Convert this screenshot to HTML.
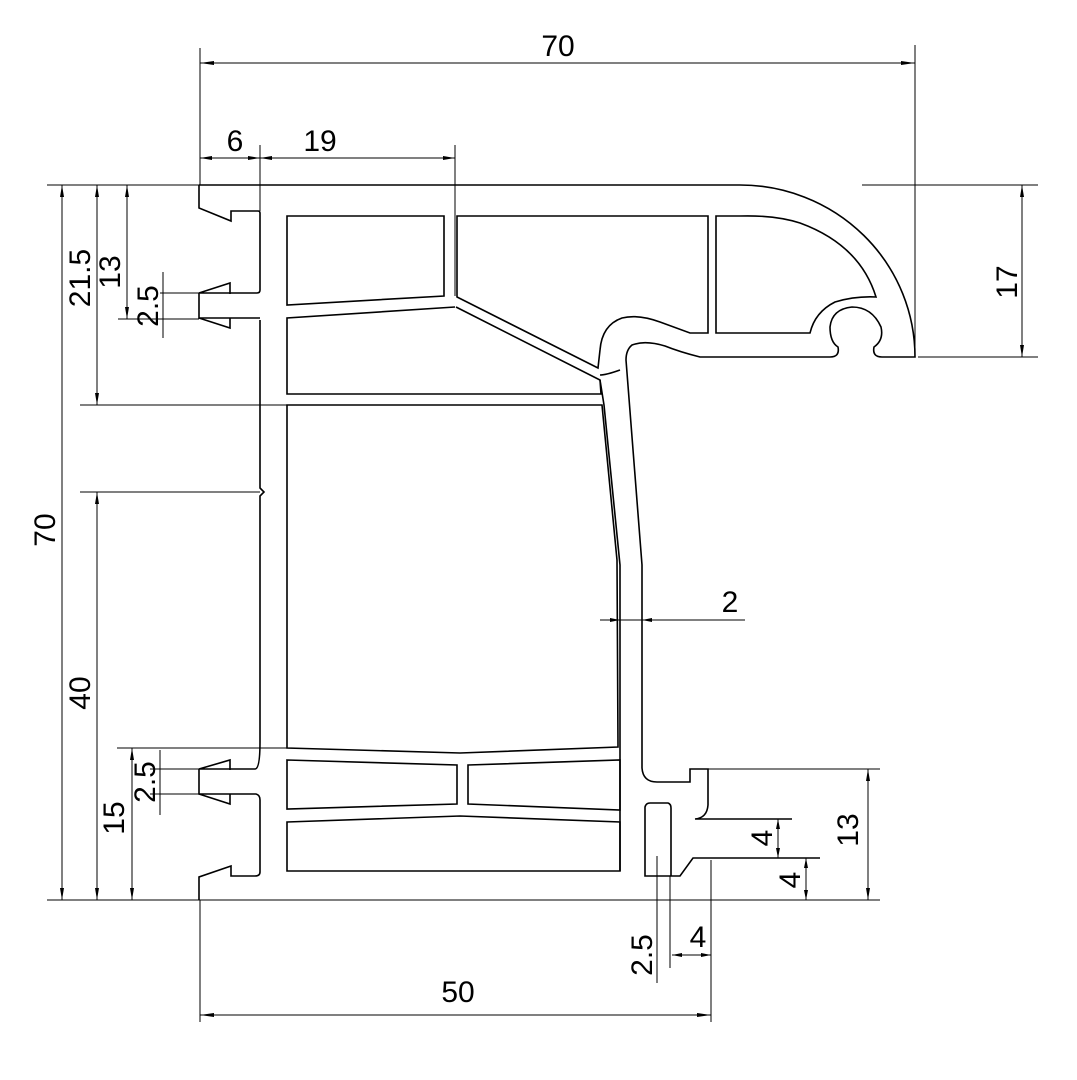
<!DOCTYPE html>
<html><head><meta charset="utf-8"><style>
html,body{margin:0;padding:0;background:#fff}
svg{display:block}
text{font-family:"Liberation Sans",sans-serif;font-size:30px;fill:#000}
</style></head><body>
<svg width="1077" height="1080" viewBox="0 0 1077 1080" xmlns="http://www.w3.org/2000/svg">
<g fill="none" stroke="#000" stroke-width="1.6">
<!-- outer profile -->
<path d="M199,185 L740,185 A175,172 0 0 1 915,357 L882,357 Q872,357 874,347 Q884,340 881,327 Q872,307 852,307 Q832,309 830,327 Q830,342 838,347 Q840,357 830,357 L700,357 Q680,352 665,346 Q645,340 632,345 Q626,350 626,360 L642,565 L642,768 Q643,782 657,782 L690,782 L690,769 L708,769 L708,805 Q707,818 695,819 L792,819"/>
<path d="M199,185 L199,208 L231,221 L231,211 L258,211 Q260,211 260,213 L260,290 Q260,293 257,293 L199,293 L230,283 L230,294"/>
<path d="M199,293 L199,318 L260,318"/>
<path d="M199,318 L230,328 L230,318"/>
<path d="M260,320 L260,488 L264,492 L260,496 L260,742 Q260,769 255,769 L199,769 L230,760 L230,770"/>
<path d="M199,769 L199,794 L256,794 Q260,795 260,800 L260,872 Q260,876 255,876 L231,876 L231,866 L199,877 L199,900"/>
<path d="M199,794 L230,804 L230,794"/>
<path d="M672,819 L672,819"/>
<path d="M820,858 L693,858 L680,876 L645,876 L645,807 Q646,803 650,803 L668,803 Q671,804 671,808 L671,876"/>
<!-- nose inner -->
<path d="M620,370 Q606,375 600,375"/>
<path d="M600,350 Q602,325 622,318 Q638,314 660,322 L690,333 L708,333 L708,216 L457,216 L457,297 L598,368 Z"/>
<path d="M716,216 L716,333 L810,333 Q815,312 835,302 Q855,296 876,297 Q860,245 800,223 Q775,215 740,216 Z"/>
<!-- slanted wall lower -->
<path d="M456,307 L600,380 L601,394 L287,394 L287,318 L455,307"/>
<!-- chamber 1 -->
<path d="M287,216 L444,216 L444,296 L287,305 Z"/>
<!-- big chamber -->
<path d="M287,405 L602,405 L617,560 L618,747 L460,753 L287,748 Z"/>
<!-- right wall outer line -->
<path d="M600,380 L604,405 L620,565 L620,760 L620,871"/>
<!-- lower chambers -->
<path d="M287,760 L457,765 L457,804 L287,809 Z"/>
<path d="M468,765 L620,760 L620,810 L468,804 Z"/>
<path d="M287,822 L460,816 L620,822 L620,871 L287,871 Z"/>
</g>
<g fill="none" stroke="#000" stroke-width="1">
<!-- extension lines -->
<line x1="47" y1="185" x2="199" y2="185"/>
<line x1="862" y1="185" x2="1038" y2="185"/>
<line x1="918" y1="357" x2="1038" y2="357"/>
<line x1="47" y1="900" x2="880" y2="900"/>
<line x1="200" y1="48" x2="200" y2="185"/>
<line x1="915" y1="45" x2="915" y2="357"/>
<line x1="200" y1="900" x2="200" y2="1022"/>
<line x1="711" y1="860" x2="711" y2="1022"/>
<line x1="260" y1="145" x2="260" y2="211"/>
<line x1="455" y1="145" x2="455" y2="296"/>
<line x1="80" y1="405" x2="600" y2="405"/>
<line x1="80" y1="492" x2="260" y2="492"/>
<line x1="117" y1="748" x2="287" y2="748"/>
<line x1="160" y1="293" x2="199" y2="293"/>
<line x1="118" y1="319" x2="199" y2="319"/>
<line x1="150" y1="769" x2="199" y2="769"/>
<line x1="150" y1="794" x2="199" y2="794"/>
<line x1="708" y1="769" x2="880" y2="769"/>
<line x1="657" y1="856" x2="657" y2="983"/>
<line x1="670" y1="876" x2="670" y2="968"/>
<!-- dim lines -->
<line x1="200" y1="63" x2="915" y2="63"/>
<line x1="200" y1="158" x2="455" y2="158"/>
<line x1="62" y1="185" x2="62" y2="900"/>
<line x1="97" y1="185" x2="97" y2="405"/>
<line x1="97" y1="492" x2="97" y2="900"/>
<line x1="127" y1="185" x2="127" y2="319"/>
<line x1="163" y1="272" x2="163" y2="338"/>
<line x1="132" y1="748" x2="132" y2="900"/>
<line x1="160" y1="750" x2="160" y2="815"/>
<line x1="1022" y1="185" x2="1022" y2="357"/>
<line x1="868" y1="769" x2="868" y2="900"/>
<line x1="778" y1="819" x2="778" y2="858"/>
<line x1="806" y1="858" x2="806" y2="900"/>
<line x1="672" y1="955" x2="711" y2="955"/>
<line x1="200" y1="1015" x2="711" y2="1015"/>
<line x1="600" y1="620" x2="745" y2="620"/>
</g>
<g fill="#000">
<path d="M200,63 l14,-2 v4z M915,63 l-14,-2 v4z"/>
<path d="M200,158 l12,-2 v4z M260,158 l-12,-2 v4z M260,158 l12,-2 v4z M455,158 l-12,-2 v4z"/>
<path d="M62,185 l-2,12 h4z M62,900 l-2,-12 h4z"/>
<path d="M97,185 l-2,12 h4z M97,405 l-2,-12 h4z M97,492 l-2,12 h4z M97,900 l-2,-12 h4z"/>
<path d="M127,185 l-2,12 h4z M127,319 l-2,-12 h4z"/>
<path d="M132,748 l-2,12 h4z M132,900 l-2,-12 h4z"/>
<path d="M1022,185 l-2,12 h4z M1022,357 l-2,-12 h4z"/>
<path d="M868,769 l-2,12 h4z M868,900 l-2,-12 h4z"/>
<path d="M778,819 l-2,10 h4z M778,858 l-2,-10 h4z M806,858 l-2,10 h4z M806,900 l-2,-10 h4z"/>
<path d="M672,955 l10,-2 v4z M711,955 l-10,-2 v4z"/>
<path d="M200,1015 l14,-2 v4z M711,1015 l-14,-2 v4z"/>
<path d="M620,620 l-10,-2 v4z M642,620 l10,-2 v4z"/>
</g>
<text x="558" y="56" text-anchor="middle">70</text>
<text x="235" y="151" text-anchor="middle">6</text>
<text x="320" y="151" text-anchor="middle">19</text>
<text x="458" y="1002" text-anchor="middle">50</text>
<text x="730" y="612" text-anchor="middle">2</text>
<text x="698" y="947" text-anchor="middle">4</text>
<text transform="translate(55,530) rotate(-90)" text-anchor="middle">70</text>
<text transform="translate(90,278) rotate(-90)" text-anchor="middle">21.5</text>
<text transform="translate(120,272) rotate(-90)" text-anchor="middle">13</text>
<text transform="translate(158,306) rotate(-90)" text-anchor="middle">2.5</text>
<text transform="translate(90,693) rotate(-90)" text-anchor="middle">40</text>
<text transform="translate(124,818) rotate(-90)" text-anchor="middle">15</text>
<text transform="translate(155,782) rotate(-90)" text-anchor="middle">2.5</text>
<text transform="translate(1017,282) rotate(-90)" text-anchor="middle">17</text>
<text transform="translate(858,830) rotate(-90)" text-anchor="middle">13</text>
<text transform="translate(772,838) rotate(-90)" text-anchor="middle">4</text>
<text transform="translate(800,880) rotate(-90)" text-anchor="middle">4</text>
<text transform="translate(652,955) rotate(-90)" text-anchor="middle">2.5</text>
</svg>
</body></html>
